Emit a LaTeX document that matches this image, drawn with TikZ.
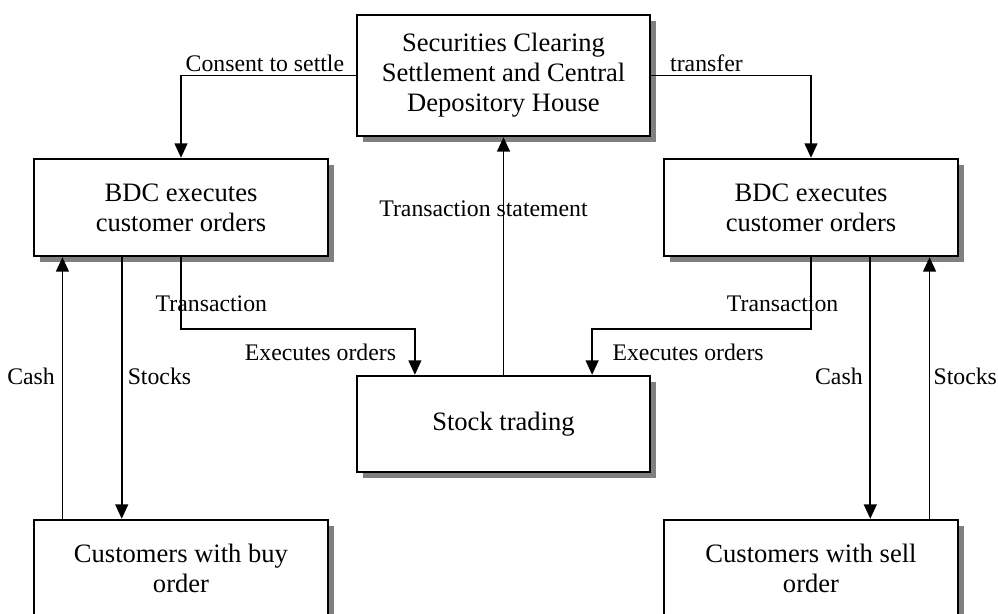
\documentclass[tikz,border=0pt]{standalone}
\usepackage{fontspec}
\setmainfont{Liberation Serif}
\usetikzlibrary{positioning,arrows.meta,calc,shadows}

\begin{document}
\begin{tikzpicture}[
    x=1cm, y=1cm,
    block/.style={
      draw,
      line width=1.7pt,
      align=center,
      fill=white,
      inner sep=2pt,
      minimum width=7.35cm,
      minimum height=2.425cm,
      font=\fontsize{18.9}{21.4}\selectfont,
      drop shadow={shadow xshift=0.14cm, shadow yshift=-0.14cm, fill=gray, opacity=1}
    },
    lbl/.style={font=\fontsize{16.9}{19}\selectfont, inner sep=2pt},
    arrow/.style={-{Triangle[length=0.36cm, width=0.32cm]}, line width=1.2pt}
  ]
    \useasboundingbox (0,0) rectangle (24.95,15.325);

    % boxes
    \node[block, minimum width=7.325cm, minimum height=3.025cm] (clear) at (12.5875,13.4375)
      {Securities Clearing\\Settlement and Central\\Depository House};
    \node[block] (bdcl) at (4.525,10.1375) {BDC executes\\customer orders};
    \node[block] (bdcr) at (20.275,10.1375) {BDC executes\\customer orders};
    \node[block, minimum width=7.325cm, minimum height=2.4cm] (stock) at (12.5875,4.725) {Stock trading};
    \node[block] (buy) at (4.525,1.1125) {Customers with buy\\order};
    \node[block] (sell) at (20.275,1.1125) {Customers with sell\\order};

    \coordinate (tl) at ($(stock.north west)!0.2!(stock.north east)$);
    \coordinate (tr) at ($(stock.north west)!0.8!(stock.north east)$);

    % clearing house <-> brokers
    \draw[arrow] (clear.west) -| node[lbl, pos=0.26, above] {Consent to settle} (bdcl.north);
    \draw[arrow] (clear.east) -| node[lbl, pos=0.173, above] {transfer} (bdcr.north);
    \draw[arrow] (stock) -- node[lbl, pos=0.7, xshift=-0.5cm] {Transaction statement} (clear);

    % orders into the market
    \draw[arrow] (bdcl.south) -- node[lbl, pos=0.65, xshift=0.76cm] {Transaction} ++(0,-1.8)
      -| node[lbl, pos=0.75, left=0.38cm] {Executes orders} (tl);
    \draw[arrow] (bdcr.south) -- node[lbl, pos=0.65, xshift=-0.71cm] {Transaction} ++(0,-1.8)
      -| node[lbl, pos=0.75, right=0.42cm] {Executes orders} (tr);

    % buyers
    \draw[arrow] ($(buy.north west)!0.1!(buy.north east)$)
      -- node[lbl, pos=0.545, left=0.1cm] {Cash} ($(bdcl.south west)!0.1!(bdcl.south east)$);
    \draw[arrow] ($(bdcl.south west)!0.3!(bdcl.south east)$)
      -- node[lbl, pos=0.4545, right=0.06cm] {Stocks} ($(buy.north west)!0.3!(buy.north east)$);

    % sellers
    \draw[arrow] ($(bdcr.south west)!0.7!(bdcr.south east)$)
      -- node[lbl, pos=0.4545, left=0.1cm] {Cash} ($(sell.north west)!0.7!(sell.north east)$);
    \draw[arrow] ($(sell.north west)!0.9!(sell.north east)$)
      -- node[lbl, pos=0.545, right=0.01cm] {Stocks} ($(bdcr.south west)!0.9!(bdcr.south east)$);
  \end{tikzpicture}
\end{document}
